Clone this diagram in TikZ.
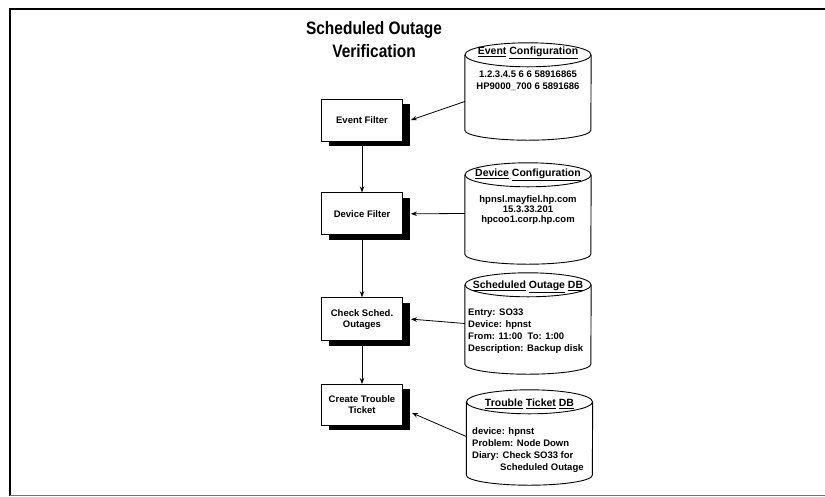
\documentclass[tikz,border=0pt]{standalone}
\usepackage{fontspec}
\setmainfont{Liberation Sans}
\newfontfamily\titlefont[FakeStretch=0.86]{Liberation Sans}
\usetikzlibrary{arrows.meta, positioning, shadows}
% cylinder outline round a named node
\newcommand\dbdraw[1]{%
  \draw[line width=0.9pt] ([yshift=-12pt]#1.north west) -- ([yshift=10pt]#1.south west)
    arc[start angle=180, end angle=360, x radius=63pt, y radius=10pt]
    -- ([yshift=-12pt]#1.north east);
  \draw[line width=0.9pt] ([yshift=-12pt]#1.north) ellipse[x radius=63pt, y radius=12pt];
}

\begin{document}
\begin{tikzpicture}[
  x=1pt, y=-1pt,
  node distance=51pt,
  proc/.style={draw=black, fill=white, line width=0.8pt,
               minimum width=81pt, minimum height=42pt,
               inner sep=2pt, align=center,
               font=\fontsize{9.5}{11}\selectfont\bfseries,
               drop shadow={shadow xshift=7pt, shadow yshift=-5pt,
                            fill=black, opacity=1}},
  db/.style={minimum width=126pt, inner sep=0pt},
  dbtitle/.style={font=\fontsize{10.5}{12}\selectfont\bfseries, inner sep=0pt},
  dbtext/.style={font=\fontsize{9.5}{12}\selectfont\bfseries, inner sep=0pt},
  arr/.style={-{Stealth[length=6pt, width=4.5pt]}, line width=0.8pt}
]
\useasboundingbox (0,0) rectangle (825,496);

% frame
\draw[line width=2.2pt] (825,9) -- (10,9) -- (10,496);
\draw[line width=1pt, black!55] (10,495) -- (825,495);

% title
\node[font=\fontsize{18}{23}\selectfont\titlefont\bfseries, align=center]
  (title) at (374,40) {Scheduled Outage\\Verification};

% process boxes
\node[proc] (evf) at (362,120) {Event Filter};
\node[proc, below=51pt of evf] (dvf) {Device Filter};
\node[proc, below=62pt of dvf, minimum height=43pt] (cso) {Check Sched.\\Outages};
\node[proc, below=43pt of cso, minimum height=41pt] (ctt) {Create Trouble\\Ticket};

% databases
\node[db, minimum height=97pt] (evc) at (528,91.5) {};
\node[db, minimum height=101pt] (dvc) at (528,213.5) {};
\node[db, minimum height=101pt] (sod) at (528,323.5) {};
\node[db, minimum height=95pt] (ttd) at (529.5,437.5) {};
\dbdraw{evc}
\dbdraw{dvc}
\dbdraw{sod}
\dbdraw{ttd}

\node[dbtitle] (evct) at (528,53) {\underline{Event} \underline{Configuration}};
\node[dbtext, align=center] (evcx) at (528,81)
  {1.2.3.4.5 6 6 58916865\\HP9000\_700 6 5891686};

\node[dbtitle] (dvct) at (528,175) {\underline{Device} \underline{Configuration}};
\node[dbtext, align=center, font=\fontsize{9.5}{10}\selectfont\bfseries] (dvcx) at (528,210)
  {hpnsl.mayfiel.hp.com\\15.3.33.201\\hpcoo1.corp.hp.com};

\node[dbtitle] (sodt) at (528,287) {\underline{Scheduled} \underline{Outage} \underline{DB}};
\node[dbtext, align=left, anchor=west] (sodx) at (468,331)
  {Entry: SO33\\Device: hpnst\\From: 11:00\ \ To: 1:00\\Description: Backup disk};

\node[dbtitle] (ttdt) at (529.5,404) {\underline{Trouble} \underline{Ticket} \underline{DB}};
\node[dbtext, align=left, anchor=west] (ttdx) at (472,450)
  {device: hpnst\\Problem: Node Down\\Diary: Check SO33 for\\\hspace*{28pt}Scheduled Outage};

% flow
\draw[arr] (evf) -- (dvf);
\draw[arr] (dvf) -- (cso);
\draw[arr] (cso) -- (ctt);

\draw[arr] ([yshift=-10pt]evc.west) -- ([xshift=8pt]evf.east);
\draw[arr] (dvc.west) -- ([xshift=8pt]dvf.east);
\draw[arr] (sod.west) -- ([xshift=8pt]cso.east);
\draw[arr] ([yshift=1pt]ttd.west) -- ([xshift=9pt, yshift=-8pt]ctt.east);
\end{tikzpicture}
\end{document}
